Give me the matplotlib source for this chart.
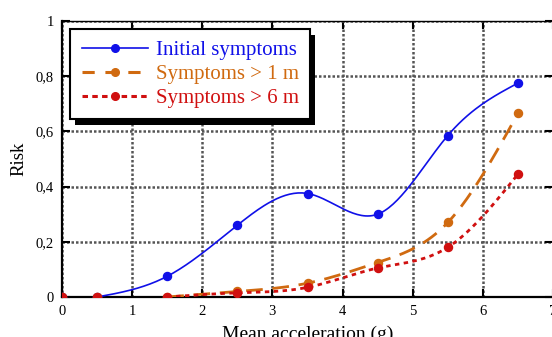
import numpy as np
import matplotlib
matplotlib.use("Agg")
import matplotlib.pyplot as plt
from matplotlib.patches import Rectangle
from matplotlib.transforms import IdentityTransform

# ---- data ----
accel = [0, 0.5, 1.5, 2.5, 3.5, 4.5, 5.5, 6.5]
initial = [0, 0, 0.075, 0.26, 0.375, 0.30, 0.585, 0.775]
over1m = [0, 0, 0, 0.02, 0.05, 0.125, 0.27, 0.665]
over6m = [0, 0, 0, 0.015, 0.035, 0.105, 0.18, 0.445]
labels = ["Initial symptoms", "Symptoms > 1 m", "Symptoms > 6 m"]
yticks = [0, 0.2, 0.4, 0.6, 0.8, 1]
ytick_labels = ["0", "0,2", "0,4", "0,6", "0,8", "1"]
xticks = [0, 1, 2, 3, 4, 5, 6, 7]


def natural_spline(x, y, n=200):
    x = np.asarray(x, float)
    y = np.asarray(y, float)
    k = len(x)
    h = np.diff(x)
    A = np.zeros((k, k))
    b = np.zeros(k)
    A[0, 0] = A[-1, -1] = 1
    for i in range(1, k - 1):
        A[i, i - 1] = h[i - 1]
        A[i, i] = 2 * (h[i - 1] + h[i])
        A[i, i + 1] = h[i]
        b[i] = 6 * ((y[i + 1] - y[i]) / h[i] - (y[i] - y[i - 1]) / h[i - 1])
    M = np.linalg.solve(A, b)
    xs = np.linspace(x[0], x[-1], n)
    idx = np.clip(np.searchsorted(x, xs) - 1, 0, k - 2)
    x0, x1 = x[idx], x[idx + 1]
    hh = x1 - x0
    t0 = x1 - xs
    t1 = xs - x0
    ys = (M[idx] * t0**3 + M[idx + 1] * t1**3) / (6 * hh) \
        + (y[idx] / hh - M[idx] * hh / 6) * t0 \
        + (y[idx + 1] / hh - M[idx + 1] * hh / 6) * t1
    return xs, ys


plt.rcParams['font.family'] = ['Liberation Serif', 'DejaVu Serif']

fig = plt.figure(figsize=(5.52, 3.37), dpi=100)
ax = fig.add_axes([62 / 552, 40 / 337, 491 / 552, 276 / 337])

blue = '#1010e8'
orange = '#d06a10'
red = '#d01010'

# curves
xs, ys = natural_spline(accel[1:], initial[1:])
ax.plot(xs, ys, color=blue, lw=1.2, zorder=3)
xs, ys = natural_spline(accel[2:], over1m[2:])
ax.plot(xs, ys, color=orange, lw=2.0, dashes=(6, 3.5), zorder=3)
xs, ys = natural_spline(accel[2:], over6m[2:])
ax.plot(xs, ys, color=red, lw=2.0, dashes=(1.6, 1.6), zorder=3)

# markers
ax.plot(accel, initial, 'o', color=blue, ms=5.8, zorder=4)
ax.plot(accel, over1m, 'o', color=orange, ms=5.8, zorder=4)
ax.plot(accel, over6m, 'o', color=red, ms=5.8, zorder=4)

# legend proxies
h1, = ax.plot([], [], color=blue, lw=1.2, marker='o', ms=5.5)
h2, = ax.plot([], [], color=orange, lw=2.2, dashes=(4, 3.5), marker='o', ms=5.5)
h3, = ax.plot([], [], color=red, lw=2.2, dashes=(1.8, 1.4), marker='o', ms=5.5)

ax.set_xlim(0, 7)
ax.set_ylim(0, 1)
ax.set_xticks(xticks)
ax.set_yticks(yticks)
ax.set_yticklabels(ytick_labels)
ax.tick_params(direction='in', length=6, width=1.5, top=True, right=True,
               labelsize=10.5, pad=6, colors='black')
ax.grid(True, color='#555555', linestyle=(0, (1, 0.8)), linewidth=1.8)
ax.set_axisbelow(True)
for s in ['left', 'bottom']:
    ax.spines[s].set_linewidth(1.6)
for s in ['top', 'right']:
    ax.spines[s].set_linewidth(1.0)

ax.set_ylabel("Risk", fontsize=13.5, labelpad=6)
ax.set_xlabel("Mean acceleration (g)", fontsize=14, labelpad=5)

leg = ax.legend([h1, h2, h3], labels, loc='upper left', bbox_to_anchor=(0, 1),
                borderaxespad=0.4, fancybox=False, framealpha=1,
                edgecolor='black', fontsize=15, handlelength=3.2,
                handletextpad=0.35, labelspacing=0.2, borderpad=0.55,
                numpoints=1)
leg.get_frame().set_linewidth(1.5)
for t, c in zip(leg.get_texts(), [blue, orange, red]):
    t.set_color(c)
leg.set_zorder(6)

fig.canvas.draw()
bb = leg.get_window_extent()
ax.add_patch(Rectangle((bb.x0 + 5, bb.y0 - 6), bb.width, bb.height,
                       transform=IdentityTransform(), facecolor='black',
                       edgecolor='none', zorder=5.5, clip_on=False))

fig.savefig('out.png', dpi=100)
